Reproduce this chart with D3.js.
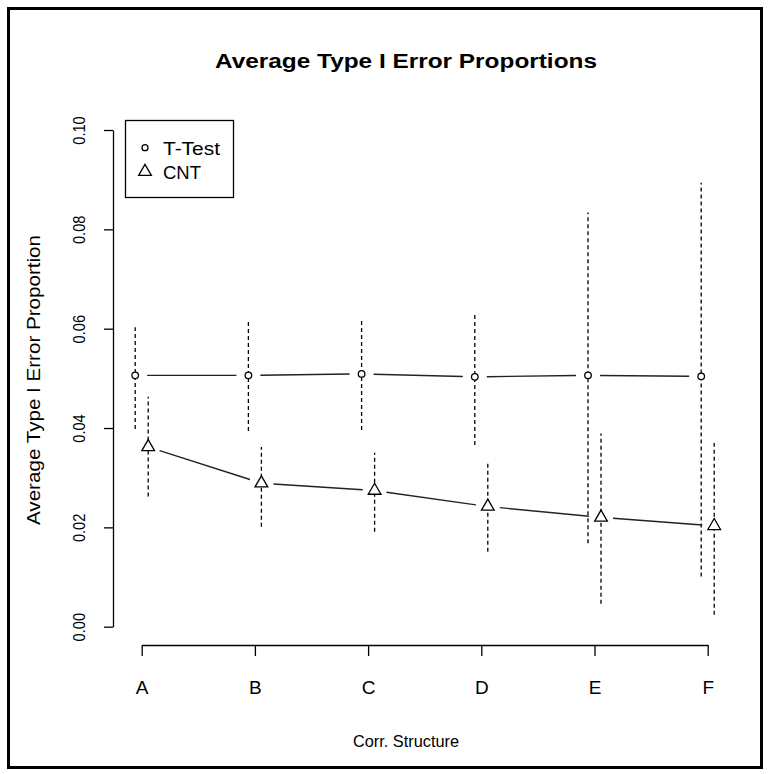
<!DOCTYPE html>
<html>
<head>
<meta charset="utf-8">
<script src="https://cdn.jsdelivr.net/npm/d3@7"></script>
<style>
  body { margin: 0; background: #fff; }
  text { font-family: Arial, "Liberation Sans", sans-serif; fill: #000; }
</style>
</head>
<body>
<div id="chart"></div>
<script>
// categories (correlation structures)
const categories = ["A", "B", "C", "D", "E", "F"];
const yTicks = [0, 0.02, 0.04, 0.06, 0.08, 0.10];

// T-Test: mean type I error with interval ends
const tTestMean = [0.0506, 0.0506, 0.0509, 0.0503, 0.0506, 0.0504];
const tTestLow  = [0.0398, 0.0394, 0.0396, 0.0366, 0.0168, 0.0101];
const tTestHigh = [0.0603, 0.0614, 0.0617, 0.0631, 0.0834, 0.0894];

// CNT
const cntMean = [0.0362, 0.0289, 0.0274, 0.0242, 0.0220, 0.0203];
const cntLow  = [0.0262, 0.0201, 0.0191, 0.0151, 0.0046, 0.0024];
const cntHigh = [0.0463, 0.0362, 0.0350, 0.0330, 0.0389, 0.0370];

const width = 769, height = 774;

const svg = d3.select("#chart").append("svg")
    .attr("width", width)
    .attr("height", height);

// outer frame
svg.append("rect")
    .attr("x", 8.5).attr("y", 8.5)
    .attr("width", 753).attr("height", 759)
    .attr("fill", "none")
    .attr("stroke", "#000")
    .attr("stroke-width", 3);

const x = d3.scalePoint().domain(categories).range([141.7, 707.7]);
const y = d3.scaleLinear().domain([0, 0.1]).range([626.7, 130]);

// y axis
const yAxis = svg.append("g")
    .attr("transform", "translate(113,0)")
    .call(d3.axisLeft(y).tickValues(yTicks).tickSize(9).tickSizeOuter(0).tickFormat(d3.format(".2f")));
yAxis.selectAll(".tick text")
    .attr("transform", "rotate(-90)")
    .attr("x", 0).attr("y", -28).attr("dy", null)
    .attr("text-anchor", "middle")
    .style("font-size", "17px")
    .each(function () {
        const w = this.getComputedTextLength();
        d3.select(this).attr("textLength", w * 0.86).attr("lengthAdjust", "spacingAndGlyphs");
    });

// x axis
const xAxis = svg.append("g")
    .attr("transform", "translate(0,645)")
    .call(d3.axisBottom(x).tickSize(11).tickSizeOuter(0));
xAxis.selectAll(".tick text")
    .attr("y", 49).attr("dy", null)
    .style("font-size", "19px");

svg.selectAll(".domain, .tick line").attr("stroke", "#000").attr("stroke-width", 1.3);
svg.selectAll(".tick text").attr("font-family", null);

// titles
svg.append("text")
    .attr("x", 406).attr("y", 68)
    .attr("text-anchor", "middle")
    .style("font-size", "20px").style("font-weight", "bold")
    .attr("textLength", 382).attr("lengthAdjust", "spacingAndGlyphs")
    .text("Average Type I Error Proportions");

svg.append("text")
    .attr("x", 406).attr("y", 747)
    .attr("text-anchor", "middle")
    .style("font-size", "17px")
    .attr("textLength", 106).attr("lengthAdjust", "spacingAndGlyphs")
    .text("Corr. Structure");

svg.append("text")
    .attr("transform", "translate(40,380) rotate(-90)")
    .attr("text-anchor", "middle")
    .style("font-size", "18px")
    .attr("textLength", 290).attr("lengthAdjust", "spacingAndGlyphs")
    .text("Average Type I Error Proportion");

// series
const shift = 6.5;
const series = [
    { name: "T-Test", mean: tTestMean, low: tTestLow, high: tTestHigh, dx: -shift, shape: "circle", labelW: 57 },
    { name: "CNT", mean: cntMean, low: cntLow, high: cntHigh, dx: shift, shape: "triangle", labelW: 38 }
];

const triangle = d3.symbol().type(d3.symbolTriangle).size(70);
const gap = 12;

series.forEach(s => {
    const g = svg.append("g");
    const pts = categories.map((c, i) => [x(c) + s.dx, y(s.mean[i])]);

    // dashed interval bars
    g.selectAll("line.bar")
        .data(categories)
        .join("line")
        .attr("class", "bar")
        .attr("x1", (c) => x(c) + s.dx).attr("x2", (c) => x(c) + s.dx)
        .attr("y1", (c, i) => y(s.low[i])).attr("y2", (c, i) => y(s.high[i]))
        .attr("stroke", "#000")
        .attr("stroke-width", 1.3)
        .attr("stroke-dasharray", "4,3");

    // connecting segments, leaving a gap round each point (R type = "b")
    const segs = d3.pairs(pts);
    g.selectAll("line.seg")
        .data(segs)
        .join("line")
        .attr("class", "seg")
        .each(function ([p0, p1]) {
            const dx = p1[0] - p0[0], dy = p1[1] - p0[1];
            const len = Math.hypot(dx, dy);
            const ux = dx / len, uy = dy / len;
            d3.select(this)
                .attr("x1", p0[0] + ux * gap).attr("y1", p0[1] + uy * gap)
                .attr("x2", p1[0] - ux * gap).attr("y2", p1[1] - uy * gap);
        })
        .attr("stroke", "#222")
        .attr("stroke-width", 1.4);

    // point symbols
    if (s.shape === "circle") {
        g.selectAll("circle")
            .data(pts)
            .join("circle")
            .attr("cx", d => d[0]).attr("cy", d => d[1])
            .attr("r", 3.3)
            .attr("fill", "#fff")
            .attr("stroke", "#000")
            .attr("stroke-width", 1.3);
    } else {
        g.selectAll("path.sym")
            .data(pts)
            .join("path")
            .attr("class", "sym")
            .attr("transform", d => `translate(${d[0]},${d[1]})`)
            .attr("d", triangle)
            .attr("fill", "#fff")
            .attr("stroke", "#000")
            .attr("stroke-width", 1.3);
    }
});

// legend
const legend = svg.append("g");
legend.append("rect")
    .attr("x", 125.5).attr("y", 120.5)
    .attr("width", 108).attr("height", 77)
    .attr("fill", "#fff")
    .attr("stroke", "#000")
    .attr("stroke-width", 1.3);

series.forEach((s, i) => {
    const cy = 147.7 + i * 24;
    if (s.shape === "circle") {
        legend.append("circle")
            .attr("cx", 145).attr("cy", cy).attr("r", 3)
            .attr("fill", "none").attr("stroke", "#000").attr("stroke-width", 1.3);
    } else {
        legend.append("path")
            .attr("transform", `translate(145,${cy})`)
            .attr("d", triangle)
            .attr("fill", "none").attr("stroke", "#000").attr("stroke-width", 1.3);
    }
    legend.append("text")
        .attr("x", 163).attr("y", cy + 7)
        .style("font-size", "19px")
        .attr("textLength", s.labelW).attr("lengthAdjust", "spacingAndGlyphs")
        .text(s.name);
});
</script>
</body>
</html>
